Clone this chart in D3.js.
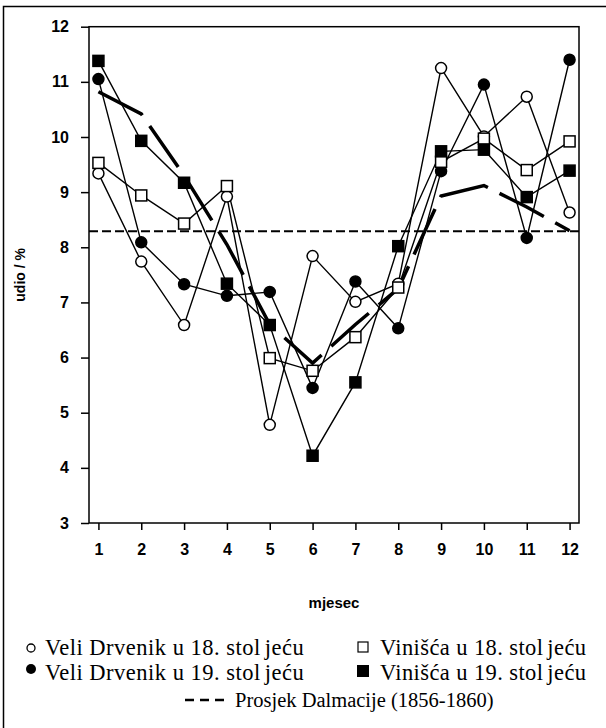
<!DOCTYPE html>
<html>
<head>
<meta charset="utf-8">
<script src="https://cdn.jsdelivr.net/npm/d3@7"></script>
<style>
  body { margin: 0; background: #fff; }
  svg { display: block; }
</style>
</head>
<body>
<svg id="chart" width="606" height="728"></svg>
<script>
// Monthly share (%) of events per month
const months = [1, 2, 3, 4, 5, 6, 7, 8, 9, 10, 11, 12];
const veliDrvenik18 = [9.34, 7.74, 6.59, 8.92, 4.78, 7.84, 7.01, 7.34, 11.25, 10.01, 10.73, 8.63];
const veliDrvenik19 = [11.05, 8.09, 7.33, 7.12, 7.19, 5.45, 7.38, 6.53, 9.38, 10.95, 8.17, 11.40];
const vinisca18 = [9.53, 8.94, 8.43, 9.11, 5.99, 5.76, 6.37, 7.27, 9.55, 9.97, 9.40, 9.92];
const vinisca19 = [11.38, 9.93, 9.17, 7.34, 6.59, 4.22, 5.55, 8.02, 9.74, 9.77, 8.91, 9.39];
const dalmatiaMonthly = [10.82, 10.42, 9.30, 8.05, 6.60, 5.90, 6.60, 7.25, 8.93, 9.12, 8.73, 8.30];
const dalmatiaLevel = 8.29;
const yTicks = [3, 4, 5, 6, 7, 8, 9, 10, 11, 12];

const legendLabels = {
  veli18: "Veli Drvenik u 18. stoljeću",
  veli19: "Veli Drvenik u 19. stoljeću",
  vin18: "Vinišća u 18. stoljeću",
  vin19: "Vinišća u 19. stoljeću",
  dalm: "Prosjek Dalmacije (1856-1860)"
};

const W = 606, H = 728;
const plot = { left: 89, right: 579, top: 26.7, bottom: 523 };
const sans = "'Liberation Sans', Arial, sans-serif";
const serif = "'Liberation Serif', 'Times New Roman', serif";

const svg = d3.select("#chart");

// outer frame (left and top edges show within the page)
svg.append("path")
  .attr("d", `M3.5,${H + 2} L3.5,6.5 L${W + 2},6.5`)
  .attr("fill", "none").attr("stroke", "#000").attr("stroke-width", 1.5);

const x = d3.scaleLinear().domain([0.78, 12.22]).range([plot.left, plot.right]);
const y = d3.scaleLinear().domain([3, 12]).range([plot.bottom, plot.top]);

// plot border
svg.append("rect")
  .attr("x", plot.left).attr("y", plot.top)
  .attr("width", plot.right - plot.left).attr("height", plot.bottom - plot.top)
  .attr("fill", "none").attr("stroke", "#000").attr("stroke-width", 1.5);

// y axis
const yAxis = svg.append("g")
  .attr("transform", `translate(${plot.left},0)`)
  .call(d3.axisLeft(y).tickValues(yTicks).tickSize(8).tickPadding(12).tickFormat(d3.format("d")));
yAxis.select(".domain").remove();
yAxis.selectAll("line").attr("stroke", "#000").attr("stroke-width", 1.5);
yAxis.selectAll("text")
  .attr("font-family", sans).attr("font-weight", "bold").attr("font-size", 16).attr("fill", "#000");

// x axis
const xAxis = svg.append("g")
  .attr("transform", `translate(0,${plot.bottom})`)
  .call(d3.axisBottom(x).tickValues(months).tickSize(7).tickPadding(14).tickFormat(d3.format("d")));
xAxis.select(".domain").remove();
xAxis.selectAll("line").attr("stroke", "#000").attr("stroke-width", 1.5);
xAxis.selectAll("text")
  .attr("font-family", sans).attr("font-weight", "bold").attr("font-size", 16).attr("fill", "#000");

// axis titles
svg.append("text")
  .attr("transform", `translate(25,${(plot.top + plot.bottom) / 2}) rotate(-90)`)
  .attr("text-anchor", "middle")
  .attr("font-family", sans).attr("font-weight", "bold").attr("font-size", 14)
  .text("udio / %");
svg.append("text")
  .attr("x", (plot.left + plot.right) / 2).attr("y", 608)
  .attr("text-anchor", "middle")
  .attr("font-family", sans).attr("font-weight", "bold").attr("font-size", 15)
  .text("mjesec");

const line = d3.line().x((d, i) => x(months[i])).y(d => y(d));

// Dalmatian average level
svg.append("line")
  .attr("x1", plot.left).attr("x2", plot.right)
  .attr("y1", y(dalmatiaLevel)).attr("y2", y(dalmatiaLevel))
  .attr("stroke", "#000").attr("stroke-width", 2).attr("stroke-dasharray", "9,4");

// Dalmatian monthly profile (thick long dashes)
svg.append("path")
  .datum(dalmatiaMonthly)
  .attr("d", line)
  .attr("fill", "none").attr("stroke", "#000").attr("stroke-width", 3.5)
  .attr("stroke-dasharray", "50,13");

const series = [
  { key: "veli18", values: veliDrvenik18, shape: "circle", filled: false },
  { key: "veli19", values: veliDrvenik19, shape: "circle", filled: true },
  { key: "vin18", values: vinisca18, shape: "square", filled: false },
  { key: "vin19", values: vinisca19, shape: "square", filled: true }
];

series.forEach(s => {
  svg.append("path")
    .datum(s.values)
    .attr("d", line)
    .attr("fill", "none").attr("stroke", "#000").attr("stroke-width", 1.4);
});

series.forEach(s => {
  const g = svg.append("g");
  if (s.shape === "circle") {
    g.selectAll("circle").data(s.values).join("circle")
      .attr("cx", (d, i) => x(months[i])).attr("cy", d => y(d))
      .attr("r", 5.5)
      .attr("fill", s.filled ? "#000" : "#fff")
      .attr("stroke", "#000").attr("stroke-width", 1.5);
  } else {
    const side = 11;
    g.selectAll("rect").data(s.values).join("rect")
      .attr("x", (d, i) => x(months[i]) - side / 2).attr("y", d => y(d) - side / 2)
      .attr("width", side).attr("height", side)
      .attr("fill", s.filled ? "#000" : "#fff")
      .attr("stroke", "#000").attr("stroke-width", 1.5);
  }
});

// legend
const legend = svg.append("g").attr("font-family", serif).attr("fill", "#000");

function legendText(xp, yp, label, size, spacing) {
  const t = legend.append("text").attr("x", xp).attr("y", yp)
    .attr("font-size", size).attr("letter-spacing", spacing);
  const cut = label.indexOf("stol");
  if (cut >= 0) {
    t.append("tspan").text(label.slice(0, cut + 4));
    t.append("tspan").attr("dx", 4).text(label.slice(cut + 4));
  } else {
    t.text(label);
  }
}

legend.append("circle").attr("cx", 31).attr("cy", 648).attr("r", 4)
  .attr("fill", "#fff").attr("stroke", "#000").attr("stroke-width", 1.3);
legendText(45, 655, legendLabels.veli18, 22.5, 0.5);
legend.append("circle").attr("cx", 31).attr("cy", 669).attr("r", 5)
  .attr("fill", "#000");
legendText(45, 680, legendLabels.veli19, 22.5, 0.5);

legend.append("rect").attr("x", 358).attr("y", 642).attr("width", 10).attr("height", 10)
  .attr("fill", "#fff").attr("stroke", "#000").attr("stroke-width", 1.2);
legendText(380, 655, legendLabels.vin18, 22.5, 0.4);
legend.append("rect").attr("x", 357).attr("y", 665).attr("width", 12).attr("height", 12)
  .attr("fill", "#000");
legendText(380, 680, legendLabels.vin19, 22.5, 0.4);

legend.append("line").attr("x1", 185).attr("x2", 225).attr("y1", 700).attr("y2", 700)
  .attr("stroke", "#000").attr("stroke-width", 2.5).attr("stroke-dasharray", "9,6");
legendText(235, 707, legendLabels.dalm, 20.5, 0);
</script>
</body>
</html>
